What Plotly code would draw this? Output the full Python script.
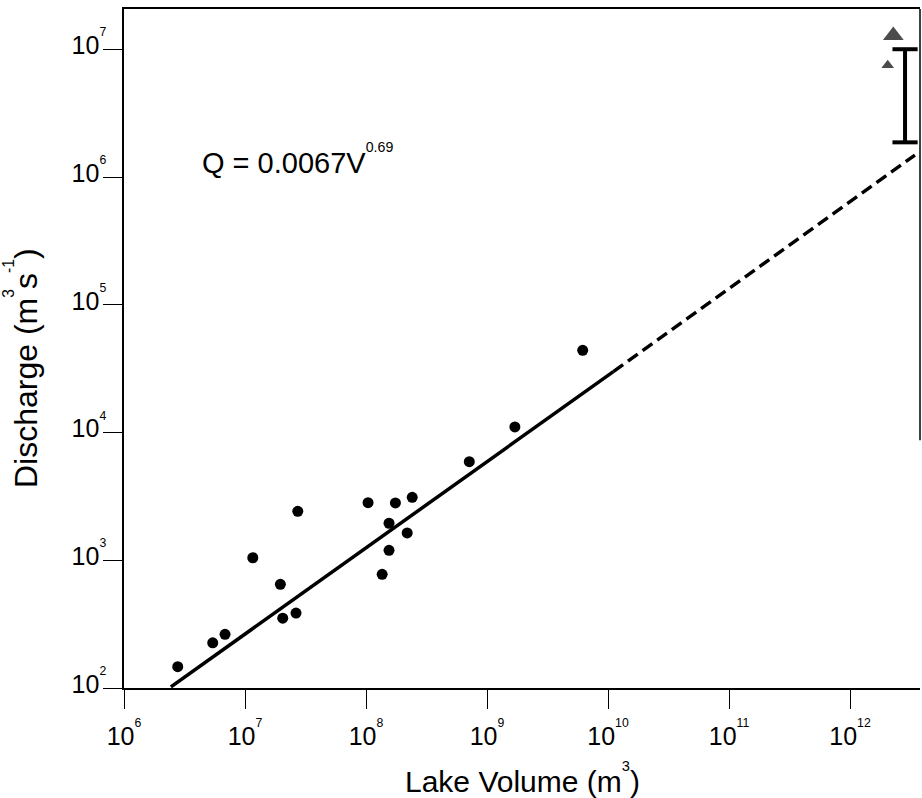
import plotly.graph_objects as go

# Lake volume (m^3) and peak discharge (m^3/s) for the outburst floods
volume = [2.78e6, 5.41e6, 6.84e6, 1.16e7, 1.96e7, 2.05e7, 2.64e7, 2.73e7,
          1.04e8, 1.36e8, 1.55e8, 1.55e8, 1.75e8, 2.19e8, 2.41e8,
          7.14e8, 1.70e9, 6.18e9]
discharge = [147, 226, 263, 1047, 649, 352, 386, 2420,
             2825, 776, 1950, 1197, 2812, 1637, 3113,
             5916, 11070, 44060]

# Fitted relation (solid over the data) and its extrapolation (dashed)
fit_volume = [2.44e6, 1.107e10]
fit_discharge = [102, 3.0e4]
extrap_volume = [1.107e10, 3.44e12]
extrap_discharge = [3.0e4, 1.49e6]

# Large-flood estimates (triangles) and estimated range (bar)
tri_volume = [2.28e12, 2.05e12]
tri_discharge = [1.29e7, 7.52e6]
bar_volume = [2.85e12, 2.85e12]
bar_discharge = [1.875e6, 1.005e7]

# Decade tick exponents
x_exponents = [6, 7, 8, 9, 10, 11, 12]
y_exponents = [2, 3, 4, 5, 6, 7]

FONT = "Liberation Sans, Arial, Helvetica, sans-serif"


def pow10_labels(exps):
    return ["10<sup><sup>%d</sup></sup>" % e for e in exps]


fig = go.Figure()

fig.add_trace(go.Scatter(
    x=fit_volume, y=fit_discharge, mode="lines",
    line=dict(color="black", width=3.5), hoverinfo="skip"))
fig.add_trace(go.Scatter(
    x=extrap_volume, y=extrap_discharge, mode="lines",
    line=dict(color="black", width=3.5, dash="12px,6px"), hoverinfo="skip"))
fig.add_trace(go.Scatter(
    x=volume, y=discharge, mode="markers",
    marker=dict(color="black", size=11)))
fig.add_trace(go.Scatter(
    x=tri_volume, y=tri_discharge, mode="markers",
    marker=dict(color="black", symbol="triangle-up", size=[18, 11],
                line=dict(width=0))))
fig.add_trace(go.Scatter(
    x=bar_volume, y=bar_discharge, mode="lines+markers",
    line=dict(color="black", width=4),
    marker=dict(symbol="line-ew", size=18, color="black",
                line=dict(color="black", width=4))))

x_lo, y_lo = 6, 2
x_hi = x_lo + 796 / 121.0
y_hi = y_lo + 679 / 127.7

axis_common = dict(
    type="log", showgrid=False, zeroline=False,
    showline=True, linecolor="black", linewidth=1.5,
    ticks="outside", ticklen=19, tickwidth=1.3, tickcolor="black",
    tickfont=dict(family=FONT, size=25, color="black"),
)

fig.update_xaxes(
    **axis_common, range=[x_lo, x_hi], mirror=True,
    tickvals=[10 ** e for e in x_exponents],
    ticktext=pow10_labels(x_exponents),
    ticklabelstandoff=6,
)
fig.update_yaxes(
    **axis_common, range=[y_lo, y_hi],
    tickvals=[10 ** e for e in y_exponents],
    ticktext=pow10_labels(y_exponents),
    ticklabelshift=-4,
    ticklabelstandoff=-8,
)

fig.update_layout(
    width=922, height=798,
    margin=dict(l=124, r=2, t=9, b=110),
    paper_bgcolor="white", plot_bgcolor="white",
    showlegend=False,
    font=dict(family=FONT, color="black"),
    shapes=[dict(type="line", xref="paper", yref="paper",
                 x0=1, x1=1, y0=0.365, y1=1,
                 line=dict(color="black", width=1.5))],
    annotations=[
        dict(text="Lake Volume (m<sup><sup>3</sup></sup>)",
             xref="paper", yref="paper", x=0.5, y=-0.1325,
             xanchor="center", yanchor="middle", showarrow=False,
             font=dict(family=FONT, size=30, color="black")),
        dict(text="Discharge (m<sup><sup>3</sup></sup>s<sup><sup>-1</sup></sup>)",
             xref="paper", yref="paper", x=-0.1288, y=0.472,
             xanchor="center", yanchor="middle", textangle=-90,
             showarrow=False,
             font=dict(family=FONT, size=32, color="black")),
        dict(text="Q = 0.0067V<sup><sup>0.69</sup></sup>",
             xref="paper", yref="paper", x=(200 - 124) / 796,
             y=(688 - 159) / 679,
             xanchor="left", yanchor="middle", showarrow=False,
             font=dict(family=FONT, size=29, color="black")),
    ],
)

fig.write_html("out.html")
